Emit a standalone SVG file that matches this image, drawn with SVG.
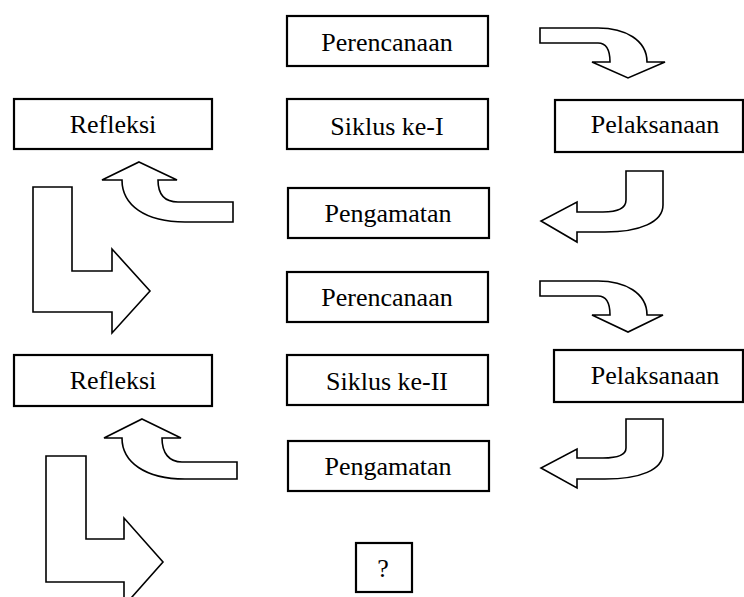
<svg xmlns="http://www.w3.org/2000/svg" width="744" height="597" viewBox="0 0 744 597">
<style>
.box{fill:#fff;stroke:#000;stroke-width:2.2}
.t{font-family:"Liberation Serif","Times New Roman",serif;font-size:26px;fill:#000;text-anchor:middle}
.arr{fill:#fff;stroke:#000;stroke-width:1.6;stroke-linejoin:miter}
</style>
<rect width="744" height="597" fill="#fff"/>
<g id="perencanaan1"><rect class="box" x="287" y="16" width="201" height="50"/><text class="t" x="387" y="51">Perencanaan</text></g>
<g id="siklus1"><rect class="box" x="287" y="99" width="201" height="50"/><text class="t" x="387" y="135">Siklus ke-I</text></g>
<g id="pengamatan1"><rect class="box" x="288" y="188" width="201" height="50"/><text class="t" x="388" y="222">Pengamatan</text></g>
<g id="refleksi1"><rect class="box" x="14" y="99" width="198" height="50"/><text class="t" x="113" y="133">Refleksi</text></g>
<g id="pelaksanaan1"><rect class="box" x="555" y="100" width="188" height="52"/><text class="t" x="655" y="133">Pelaksanaan</text></g>
<g id="perencanaan2"><rect class="box" x="287" y="272" width="201" height="50"/><text class="t" x="387" y="306">Perencanaan</text></g>
<g id="siklus2"><rect class="box" x="287" y="355" width="201" height="50"/><text class="t" x="387" y="390">Siklus ke-II</text></g>
<g id="pengamatan2"><rect class="box" x="288" y="441" width="201" height="50"/><text class="t" x="388" y="475">Pengamatan</text></g>
<g id="refleksi2"><rect class="box" x="14" y="355" width="198" height="51"/><text class="t" x="113" y="389">Refleksi</text></g>
<g id="pelaksanaan2"><rect class="box" x="554" y="350" width="189" height="52"/><text class="t" x="655" y="384">Pelaksanaan</text></g>
<g id="tanya"><rect class="box" x="356" y="543" width="56" height="49"/><text class="t" x="383" y="577">?</text></g>
<g id="connectors">
<path class="arr" d="M540,28 L598,28 C625,28 647,40 647,62 L665,62 L628,78 L592,62 L610,62 C610,50 606,43 598,43 L540,43 Z"/>
<path class="arr" d="M626,171 L663,171 L663,205 C663,222 640,232 605,232 L577,232 L577,242 L541,221 L577,202 L577,212 L603,212 C618,212 626,208 626,200 Z"/>
<path class="arr" d="M139,162 L177,180 L158,180 C158,195 165,202 178,202 L233,202 L233,222 L185,222 C145,222 122,205 122,180 L102,180 Z"/>
<path class="arr" d="M33,187 L72,187 L72,271 L112,271 L112,249 L150,291 L112,333 L112,312 L33,312 Z"/>
<path class="arr" d="M540,281 L598,281 C625,281 647,293 647,315 L663,315 L628,332 L592,315 L610,315 C610,303 606,296 598,296 L540,296 Z"/>
<path class="arr" d="M626,419 L663,419 L663,453 C663,470 640,479 605,479 L577,479 L577,488 L541,468 L577,449 L577,458 L603,458 C618,458 626,455 626,448 Z"/>
<path class="arr" d="M142,419 L181,438 L162,438 C162,453 169,462 182,462 L237,462 L237,479 L185,479 C145,479 122,462 122,438 L104,438 Z"/>
<path class="arr" d="M46,456 L86,456 L86,539 L124,539 L124,518 L163,562 L124,606 L124,582 L46,582 Z"/>
</g>
</svg>
